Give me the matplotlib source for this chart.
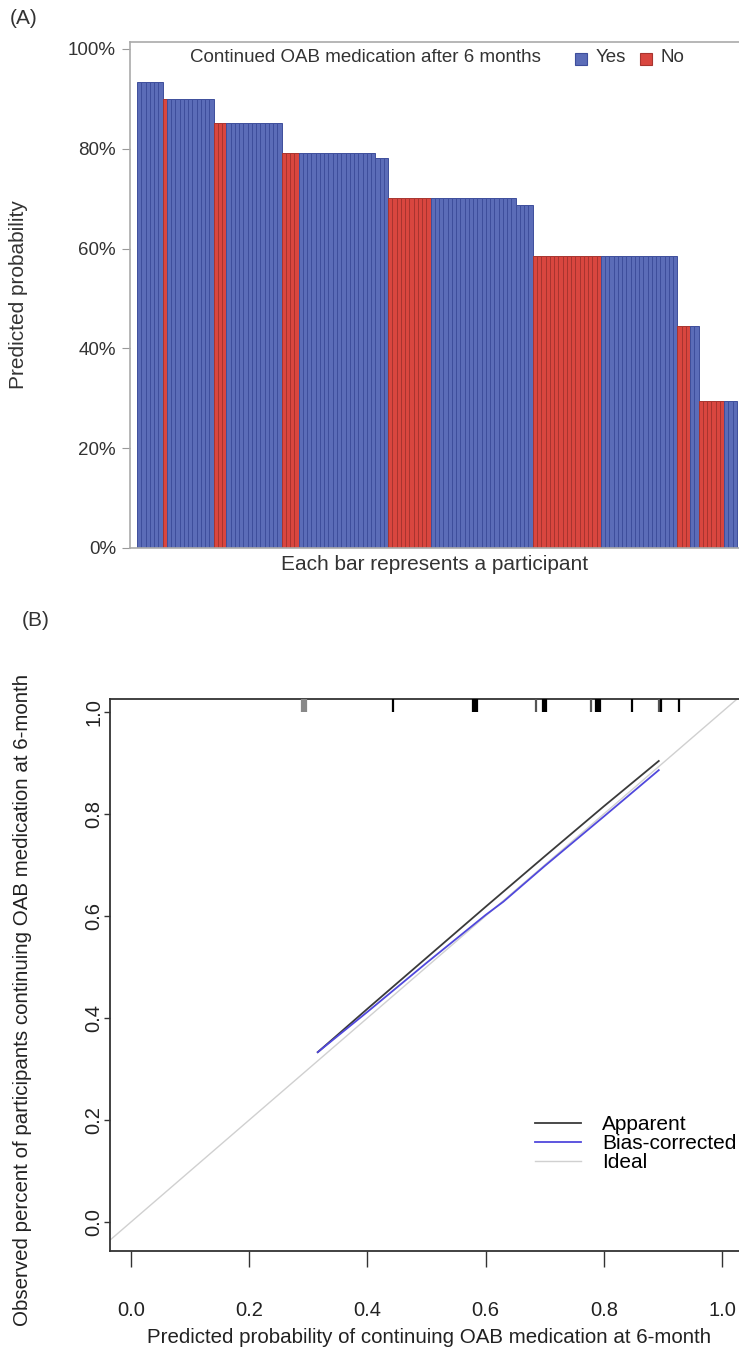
import numpy as np
import matplotlib
matplotlib.use("Agg")
import matplotlib.pyplot as plt
from matplotlib.patches import Rectangle

plt.rcParams['font.family'] = ['Liberation Sans', 'DejaVu Sans']

# ---------------- Data: Panel A (participants, sorted by predicted probability)
group_probs = [93.3, 89.9, 89.9, 85.1, 85.1, 79.2, 79.2, 78.2, 70.2, 70.2, 68.8,
               58.5, 58.5, 44.5, 44.5, 29.4, 29.4]
group_counts = [6, 1, 11, 3, 13, 4, 18, 3, 10, 20, 4, 16, 18, 3, 2, 6, 3]
group_outcome = ["Yes", "No", "Yes", "No", "Yes", "No", "Yes", "Yes", "No", "Yes", "Yes",
                 "No", "Yes", "No", "Yes", "No", "Yes"]
yticks_a = [0, 20, 40, 60, 80, 100]
yticklabels_a = ["0%", "20%", "40%", "60%", "80%", "100%"]

# ---------------- Data: Panel B (calibration)
apparent_x = [0.316, 0.40, 0.50, 0.60, 0.70, 0.80, 0.893]
apparent_y = [0.333, 0.418, 0.518, 0.618, 0.717, 0.815, 0.904]
bias_x = [0.316, 0.40, 0.50, 0.60, 0.63, 0.70, 0.80, 0.893]
bias_y = [0.333, 0.412, 0.508, 0.602, 0.628, 0.698, 0.795, 0.886]
rug_x = [0.290, 0.293, 0.296, 0.443, 0.579, 0.582, 0.585, 0.686, 0.697, 0.700,
         0.703, 0.779, 0.786, 0.790, 0.793, 0.848, 0.893, 0.897, 0.928]
rug_color = ["#888888", "#888888", "#888888", "black", "black", "black", "black",
             "#555555", "black", "black", "black", "#555555", "black", "black",
             "black", "black", "#555555", "black", "black"]
ticks_b = [0.0, 0.2, 0.4, 0.6, 0.8, 1.0]

BLUE = "#5b6cb8"
BLUE_EDGE = "#3e4e9c"
RED = "#d9463f"
RED_EDGE = "#a8342f"
TXT = "#333333"

W, H = 739, 1353
fig = plt.figure(figsize=(W / 100, H / 100), dpi=100)


def fig_rect(left, top, right, bottom):
    return [left / W, 1 - bottom / H, (right - left) / W, (bottom - top) / H]


# ---------------- Panel A
axA = fig.add_axes(fig_rect(130, 42, 739, 548))
probs = np.repeat(group_probs, group_counts)
outcome = np.repeat(group_outcome, group_counts)
xs = np.arange(len(probs))
fills = [BLUE if o == "Yes" else RED for o in outcome]
edges = [BLUE_EDGE if o == "Yes" else RED_EDGE for o in outcome]
axA.bar(xs, probs, width=1.0, color=fills, edgecolor=edges, linewidth=0.7)
npx = 600 / len(probs)
axA.set_xlim(-0.5 - 7 / npx, len(probs) - 0.5 + 2 / npx)
axA.set_ylim(0, 101.4)
axA.set_xticks([])
axA.set_yticks(yticks_a)
axA.set_yticklabels(yticklabels_a, fontsize=13.5, color=TXT)
axA.tick_params(axis="y", length=6, color="#999999", pad=4)
for s in ["left", "top", "bottom"]:
    axA.spines[s].set_color("#aaaaaa")
    axA.spines[s].set_linewidth(1.2)
axA.spines["right"].set_visible(False)
axA.set_ylabel("Predicted probability", fontsize=15, color=TXT)
axA.yaxis.set_label_coords(-(130 - 28) / (739 - 130), 0.5)
axA.set_xlabel("Each bar represents a participant", fontsize=15, color=TXT, labelpad=5)

# legend (R style horizontal)
fig.text(190 / W, 1 - 58 / H, "Continued OAB medication after 6 months", fontsize=13.5,
         color=TXT, va="center", ha="left")
for (x0, col, ecol, lab) in [(575, BLUE, BLUE_EDGE, "Yes"), (640, RED, RED_EDGE, "No")]:
    fig.patches.append(Rectangle((x0 / W, 1 - 65 / H), 12 / W, 12 / H, transform=fig.transFigure,
                                 facecolor=col, edgecolor=ecol, linewidth=0.8))
    fig.text((x0 + 21) / W, 1 - 58 / H, lab, fontsize=13.5, color=TXT,
             va="center", ha="left")

fig.text(10 / W, 1 - 18 / H, "(A)", fontsize=15, color=TXT, va="center", ha="left")
fig.text(22 / W, 1 - 620 / H, "(B)", fontsize=15, color=TXT, va="center", ha="left")

# ---------------- Panel B
x0px, x1px = 131.0, 722.0      # pixel of x=0 and x=1
y0px, y1px = 1222.0, 712.0     # pixel of y=0 and y=1
pxu = x1px - x0px
pyu = y0px - y1px
left_px, right_px = 110, 722 + 0.045 * pxu
top_px, bottom_px = 699, 1251
axB = fig.add_axes(fig_rect(left_px, top_px, right_px, bottom_px))
axB.set_xlim((left_px - x0px) / pxu, (right_px - x0px) / pxu)
axB.set_ylim((y0px - bottom_px) / pyu, (y0px - top_px) / pyu)

axB.axline((0, 0), (1, 1), color="#d0d0d0", linewidth=1.0, label="Ideal", zorder=1)
axB.plot(apparent_x, apparent_y, color="#3a3a3a", linewidth=1.3, label="Apparent", zorder=3)
axB.plot(bias_x, bias_y, color="#5048dc", linewidth=1.3, label="Bias-corrected", zorder=3)

ylo, yhi = axB.get_ylim()
rug_len = 13 / pyu
axB.vlines(rug_x, yhi - rug_len, yhi, colors=rug_color, linewidth=1.6, zorder=4)

axB.set_xticks(ticks_b)
axB.set_xticklabels([f"{t:.1f}" for t in ticks_b], fontsize=14.5, color="#222222")
axB.set_yticks(ticks_b)
axB.set_yticklabels([f"{t:.1f}" for t in ticks_b], fontsize=14.5, color="#222222",
                    rotation=90, va="center")
axB.tick_params(axis="x", length=11.5, width=1.0, color="#333333", pad=24.5)
axB.tick_params(axis="y", length=4.5, width=1.0, color="#333333", pad=0.5)
for s in axB.spines.values():
    s.set_color("#333333")
    s.set_linewidth(1.3)

axB.set_xlabel("Predicted probability of continuing OAB medication at 6-month",
               fontsize=14.8, color="#222222", labelpad=6)
axB.set_ylabel("Observed percent of participants continuing OAB medication at 6-month",
               fontsize=14.8, color="#222222")
axB.yaxis.set_label_coords(-(left_px - 32) / (right_px - left_px),
                           (bottom_px - 1000) / (bottom_px - top_px))

handles, labels = axB.get_legend_handles_labels()
order = [labels.index("Apparent"), labels.index("Bias-corrected"), labels.index("Ideal")]
axB.legend([handles[i] for i in order], [labels[i] for i in order],
           loc="upper left", bbox_to_anchor=((527 - left_px) / (right_px - left_px),
                                             1 - (1107 - top_px) / (bottom_px - top_px)),
           frameon=False, fontsize=15, handlelength=2.2, labelspacing=0.0,
           borderaxespad=0, handletextpad=1.0)

fig.savefig("out.png", dpi=100)
